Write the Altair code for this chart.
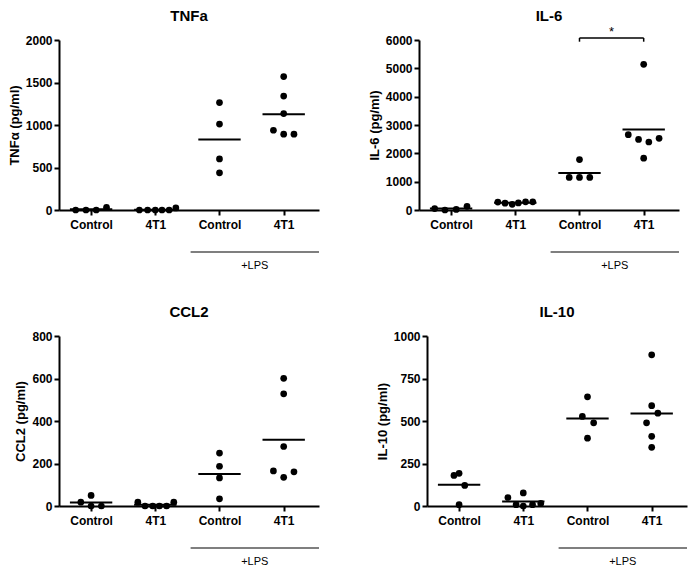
import altair as alt
import pandas as pd

groups = ["Control", "4T1", "Control", "4T1"]
lps_label = "+LPS"

# values per group (Control, 4T1, Control+LPS, 4T1+LPS) and swarm slot of each dot
tnfa_vals = [[0, 0, 0, 30], [0, 0, 0, 0, 0, 25], [1264, 1011, 601, 437], [1570, 1340, 1134, 938, 892, 892]]
tnfa_slots = [[-1.5, -0.5, 0.5, 1.5], [-1.55, -0.75, 0, 0.65, 1.35, 2.0], [0, 0, 0, 0], [0, 0, 0, -1, 0, 1]]

il6_vals = [[50, 0, 20, 130], [280, 240, 200, 250, 290, 290], [1780, 1150, 1150, 1150], [5140, 2660, 2490, 2400, 2530, 1830]]
il6_slots = [[-1.6, -0.6, 0.5, 1.55], [-1.7, -1.0, -0.3, 0.3, 1.0, 1.7], [0, -1, 0, 1], [0, -1.5, -0.5, 0.5, 1.5, 0]]

ccl2_vals = [[18, 50, 0, 0], [18, 0, 0, 0, 0, 18], [249, 187, 132, 34], [601, 528, 280, 165, 135, 161]]
ccl2_slots = [[-1, 0, 0, 1], [-1.7, -1.0, -0.25, 0.4, 1.1, 1.8], [0, 0, 0, 0], [0, 0, 0, -1, 0, 1]]

il10_vals = [[180, 192, 121, 8], [50, 77, 8, 0, 8, 15], [642, 527, 489, 399], [889, 590, 546, 489, 410, 345]]
il10_slots = [[-0.5, 0, 0.55, 0], [-1.5, 0, -0.7, 0, 0.9, 1.7], [0, -0.5, 0.6, 0], [0, 0, 0.6, -0.5, 0, 0]]

FONT = "Liberation Sans"
W, H = 260, 170
label_expr = "[" + ",".join("'%s'" % g for g in groups) + "][datum.value]"


def panel(title, ytitle, vals, slots, ymax, ystep, star=False):
    rows = []
    for g, (vs, ss) in enumerate(zip(vals, slots)):
        for v, s in zip(vs, ss):
            rows.append({"g": g, "v": v, "slot": s})
    df = pd.DataFrame(rows)
    xscale = alt.Scale(domain=[-0.5, 3.55], nice=False, zero=False)
    yscale = alt.Scale(domain=[0, ymax], nice=False)
    xaxis = alt.Axis(values=[0, 1, 2, 3], labelExpr=label_expr, title=None, grid=False,
                     domainColor="black", domainWidth=2, tickColor="black", tickWidth=2,
                     tickSize=5, labelFontSize=12, labelFontWeight="bold", labelColor="black",
                     labelFont=FONT, labelPadding=4)
    yaxis = alt.Axis(values=list(range(0, ymax + 1, ystep)), format="d", title=ytitle,
                     grid=False, domainColor="black", domainWidth=2, tickColor="black",
                     tickWidth=2, tickSize=5, labelFontSize=12, labelFontWeight="bold",
                     labelColor="black", labelFont=FONT, labelPadding=2, titleFont=FONT,
                     titleFontSize=13, titleFontWeight="bold", titleColor="black",
                     titlePadding=4)

    def X(f):
        return alt.X(f, scale=xscale, axis=xaxis)

    def Y(f):
        return alt.Y(f, scale=yscale, axis=yaxis)

    base = alt.Chart(df)
    pts = base.transform_calculate(xp="datum.g + datum.slot*0.16").mark_circle(
        size=45, color="black", opacity=1).encode(x=X("xp:Q"), y=Y("v:Q"))
    means = base.transform_aggregate(m="mean(v)", groupby=["g"]).transform_calculate(
        x1="datum.g-0.33", x2="datum.g+0.33").mark_rule(color="black", strokeWidth=2).encode(
        x=X("x1:Q"), x2="x2:Q", y=Y("m:Q"))
    ann = pd.DataFrame({"a": [1.55], "b": [3.55], "c": [2.55], "t": [lps_label]})
    lps = alt.Chart(ann).mark_rule(color="black", strokeWidth=1.2).encode(
        x=X("a:Q"), x2="b:Q", y=alt.value(H + 42))
    lpst = alt.Chart(ann).mark_text(font=FONT, fontSize=11, color="black").encode(
        x=X("c:Q"), y=alt.value(H + 56), text="t:N")
    layers = [pts, means, lps, lpst]
    offset = 10
    if star:
        offset = 2
        br = pd.DataFrame({"a": [2.0], "b": [3.0], "c": [2.5], "y1": [ymax * 1.012],
                           "y0": [ymax * 0.99], "y2": [ymax * 1.05], "t": ["*"]})
        layers.append(alt.Chart(br).mark_rule(color="black", strokeWidth=1.5).encode(
            x=X("a:Q"), x2="b:Q", y=Y("y1:Q")))
        for col in ["a", "b"]:
            layers.append(alt.Chart(br).mark_rule(color="black", strokeWidth=1.5).encode(
                x=X(col + ":Q"), y=Y("y0:Q"), y2="y1:Q"))
        layers.append(alt.Chart(br).mark_text(font=FONT, fontSize=13, color="black",
                                              baseline="middle").encode(
            x=X("c:Q"), y=Y("y2:Q"), text="t:N"))
    return alt.layer(*layers).properties(
        width=W, height=H,
        title=alt.TitleParams(title, font=FONT, fontSize=15, fontWeight="bold", color="black",
                              anchor="middle", offset=offset))


p1 = panel("TNFa", "TNFα (pg/ml)", tnfa_vals, tnfa_slots, 2000, 500)
p2 = panel("IL-6", "IL-6 (pg/ml)", il6_vals, il6_slots, 6000, 1000, star=True)
p3 = panel("CCL2", "CCL2 (pg/ml)", ccl2_vals, ccl2_slots, 800, 200)
p4 = panel("IL-10", "IL-10 (pg/ml)", il10_vals, il10_slots, 1000, 250)

chart = alt.vconcat(
    alt.hconcat(p1, p2, spacing=48),
    alt.hconcat(p3, p4, spacing=56),
    spacing=34,
).properties(padding=0).configure_view(stroke=None)

chart.save("out.html", embed_options={"renderer": "svg", "actions": False})
